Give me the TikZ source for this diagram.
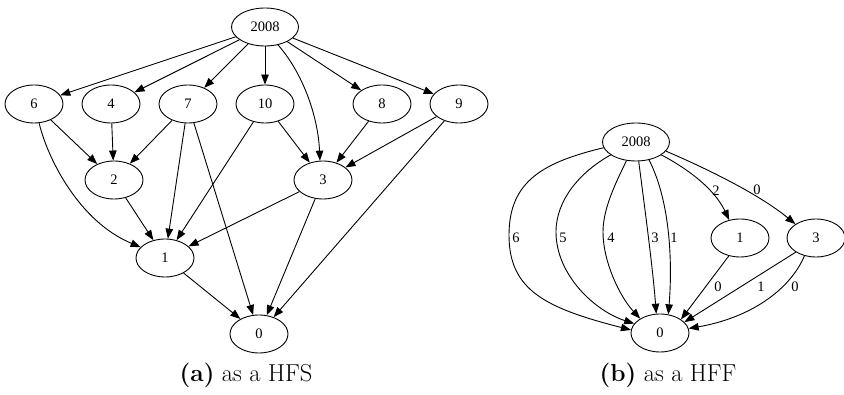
\documentclass[tikz,border=0pt]{standalone}
\usepackage{fontspec}
\newfontfamily\nodefont{Liberation Serif}
\usetikzlibrary{shapes.geometric,arrows.meta}
\begin{document}
\begin{tikzpicture}[x=1pt,y=-1pt,
  vtx/.style={ellipse,draw,line width=0.9pt,minimum width=58pt,minimum height=38pt,
    inner sep=0pt,font=\nodefont\fontsize{14.5}{16}\selectfont},
  wide/.style={vtx,minimum width=67pt},
  arc/.style={line width=0.9pt,-{Triangle[length=10pt,width=7.5pt]}},
  lbl/.style={font=\nodefont\fontsize{14.5}{16}\selectfont,inner sep=0pt},
  captext/.style={font=\fontsize{24.5}{29}\selectfont,inner sep=0pt}]
\useasboundingbox (0,0) rectangle (844,395);

% ---------- (a) as a HFS ----------
\node[wide] (l2008) at (265,27) {2008};
\node[vtx] (l6)  at (34,104)  {6};
\node[vtx] (l4)  at (111,104) {4};
\node[vtx] (l7)  at (188,104) {7};
\node[vtx] (l10) at (265,104) {10};
\node[vtx] (l8)  at (382,104) {8};
\node[vtx] (l9)  at (459,104) {9};
\node[vtx] (l2)  at (114,180) {2};
\node[vtx] (l3)  at (323,180) {3};
\node[vtx] (l1)  at (165,258) {1};
\node[vtx] (l0)  at (259,334) {0};

\draw[arc] (l2008) -- (l6);
\draw[arc] (l2008) -- (l4);
\draw[arc] (l2008) -- (l7);
\draw[arc] (l2008) -- (l10);
\draw[arc] (l2008.306) .. controls (302,72) and (318,115) .. (l3.99);
\draw[arc] (l2008) -- (l8);
\draw[arc] (l2008) -- (l9);

\draw[arc] (l6) -- (l2);
\draw[arc] (l6.285) .. controls (48,160) and (80,222) .. (l1.156);
\draw[arc] (l4) -- (l2);
\draw[arc] (l7) -- (l2);
\draw[arc] (l7) -- (l1);
\draw[arc] (l7) -- (l0);
\draw[arc] (l10) -- (l1);
\draw[arc] (l10) -- (l3);
\draw[arc] (l8) -- (l3);
\draw[arc] (l9) -- (l3);
\draw[arc] (l9) -- (l0);
\draw[arc] (l2) -- (l1);
\draw[arc] (l3) -- (l1);
\draw[arc] (l3) -- (l0);
\draw[arc] (l1) -- (l0);

\node[captext] (capa) at (246,375) {\textbf{(a)} as a HFS};

% ---------- (b) as a HFF ----------
\node[wide] (r2008) at (636,142) {2008};
\node[vtx] (r1) at (740,238) {1};
\node[vtx] (r3) at (816,238) {3};
\node[vtx] (r0) at (660,333) {0};

\draw[arc] (r2008.190) .. controls (545,162) and (509,180) .. (509,235)
  .. controls (509,290) and (545,308) .. (r0.174);
\draw[arc] (r2008.207) .. controls (580,172) and (556,200) .. (556,232)
  .. controls (556,275) and (595,311) .. (r0.160);
\draw[arc] (r2008.243) .. controls (614,186) and (603,210) .. (603,232)
  .. controls (603,262) and (620,297) .. (r0.144);
\draw[arc] (r2008.278) .. controls (645,210) and (653,270) .. (r0.101);
\draw[arc] (r2008.306) .. controls (672,205) and (672,270) .. (r0.66);
\draw[arc] (r2008.333) .. controls (690,170) and (715,190) .. (r1.121);
\draw[arc] (r2008.343) .. controls (710,170) and (760,195) .. (r3.146);
\draw[arc] (r1.238) -- (r0.33);
\draw[arc] (r3.215) -- (r0.24);
\draw[arc] (r3.237) .. controls (790,290) and (750,318) .. (r0.9);

\node[lbl] (e6) at (516,238) {6};
\node[lbl] (e5) at (563,238) {5};
\node[lbl] (e4) at (611,238) {4};
\node[lbl] (e3) at (655,238) {3};
\node[lbl] (e1) at (674,238) {1};
\node[lbl] (e2) at (716,191) {2};
\node[lbl] (e0a) at (757,190) {0};
\node[lbl] (e0b) at (718,287) {0};
\node[lbl] (e1b) at (761,287) {1};
\node[lbl] (e0c) at (795,287) {0};

\node[captext] (capb) at (668,375) {\textbf{(b)} as a HFF};
\end{tikzpicture}
\end{document}
